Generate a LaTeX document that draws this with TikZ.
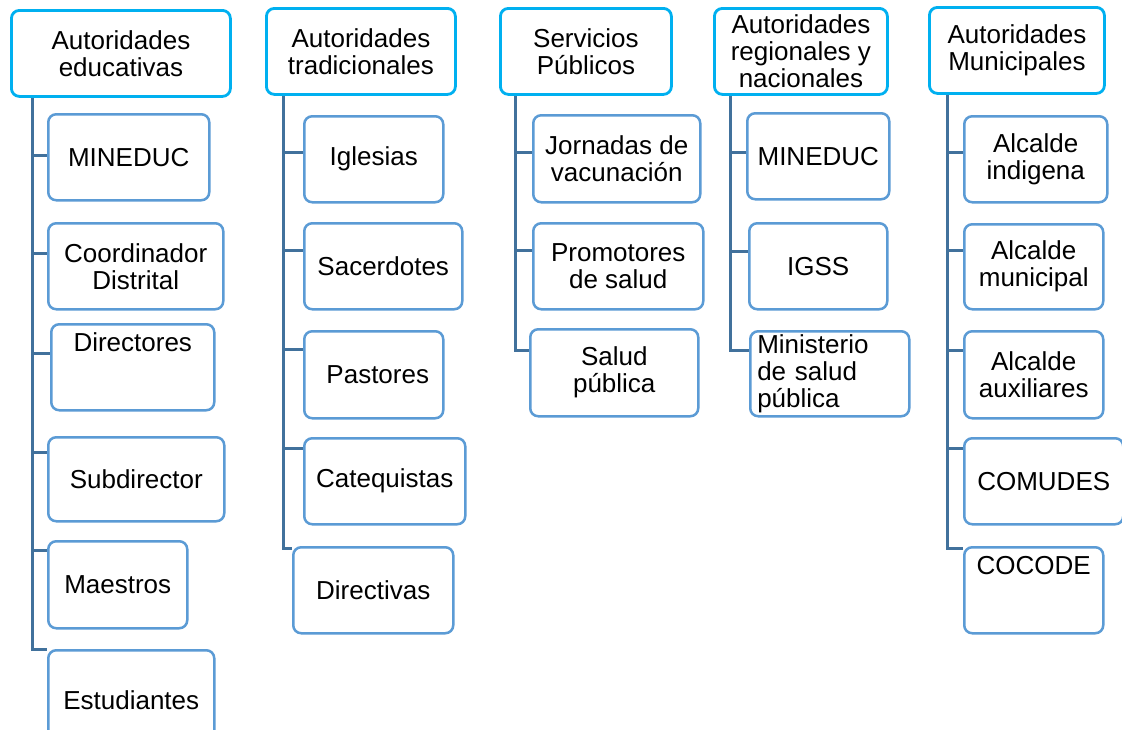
\documentclass[tikz,border=0pt]{standalone}
\usepackage{fontspec}
\setmainfont{Liberation Sans}
\usetikzlibrary{positioning}
\definecolor{headline}{HTML}{00B0F0}
\definecolor{boxline}{HTML}{5B9BD5}
\definecolor{trunkline}{HTML}{41719C}
\tikzset{
every node/.style={font=\fontsize{26}{27}\selectfont, align=center, inner sep=3pt}, % text of all boxes
head/.style={draw=headline, line width=2.8pt, rounded corners=8pt, fill=white, anchor=north west, minimum height=86pt}, % top boxes
unit/.style={draw=boxline, line width=2.5pt, rounded corners=8pt, fill=white, anchor=north west, minimum height=86pt}, % boxes below them
uptext/.style={text height=18pt, text depth=50pt}, % pushes a single line to the top of its box
branch/.style={draw=trunkline, line width=3pt}, % the connecting lines
}

\begin{document}
\begin{tikzpicture}[x=1pt, y=-1pt]
    \path[use as bounding box, fill=white] (0,0) rectangle (1122,729);
    % headers
    \node[head, minimum width=219pt] (h1) at (10,9) {Autoridades\\educativas};
    \node[head, minimum width=189pt] (h2) at (265,7) {Autoridades\\tradicionales};
    \node[head, minimum width=171pt] (h3) at (499,7) {Servicios\\Públicos};
    \node[head, minimum width=173pt] (h4) at (713,7) {Autoridades\\regionales y\\nacionales};
    \node[head, minimum width=175pt] (h5) at (928,6) {Autoridades\\Municipales};
    % educativas
    \node[unit, minimum width=161pt] (c11) at (47,113) {MINEDUC};
    \node[unit, minimum width=175pt] (c12) at (47,222) {Coordinador\\Distrital};
    \node[unit, minimum width=163pt, uptext] (c13) at (50,323) {Directores};
    \node[unit, minimum width=176pt, minimum height=84pt] (c14) at (47,436) {Subdirector};
    \node[unit, minimum width=139pt, minimum height=87pt] (c15) at (47,540) {Maestros};
    \node[unit, minimum width=166pt, minimum height=100pt] (c16) at (47,649) {Estudiantes};
    % tradicionales
    \node[unit, minimum width=139pt] (c21) at (303,115) {Iglesias};
    \node[unit, minimum width=158pt] (c22) at (303,222) {Sacerdotes};
    \node[unit, minimum width=139pt, minimum height=87pt] (c23) at (303,330) {\hspace{8pt}Pastores};
    \node[unit, minimum width=161pt] (c24) at (303,437) {Catequistas};
    \node[unit, minimum width=160pt] (c25) at (292,546) {Directivas};
    % servicios
    \node[unit, minimum width=167pt, minimum height=87pt] (c31) at (532,114) {Jornadas de\\vacunación};
    \node[unit, minimum width=170pt] (c32) at (532,222) {Promotores\\de salud};
    \node[unit, minimum width=168pt, minimum height=87pt] (c33) at (529,328) {Salud\\pública};
    % regionales
    \node[unit, minimum width=142pt] (c41) at (746,112) {MINEDUC};
    \node[unit, minimum width=138pt] (c42) at (748,222) {IGSS};
    \node[unit, text width=145pt, inner xsep=7pt, align=left, minimum height=85pt] (c43) at (749,330) {Ministerio\\de salud\\pública};
    % municipales
    \node[unit, minimum width=143pt] (c51) at (963,115) {Alcalde\\indigena};
    \node[unit, minimum width=139pt, minimum height=85pt] (c52) at (963,223) {Alcalde\\municipal};
    \node[unit, minimum width=139pt, minimum height=87pt] (c53) at (963,330) {Alcalde\\auxiliares};
    \node[unit, minimum width=159pt] (c54) at (963,437) {COMUDES};
    \node[unit, minimum width=139pt, uptext] (c55) at (963,546) {COCODE};
    % trunk positions
    \coordinate (t1) at (32,96);
    \coordinate (t2) at (283,93);
    \coordinate (t3) at (515,93);
    \coordinate (t4) at (730,93);
    \coordinate (t5) at (947,93);
    \draw[branch]
    (h1.south -| t1) |- (c16.west |- 0,649)
    (t1 |- 0,155) -- (c11.west |- 0,155)
    (t1 |- 0,253) -- (c12.west |- 0,253)
    (t1 |- 0,353) -- (c13.west |- 0,353)
    (t1 |- 0,452) -- (c14.west |- 0,452)
    (t1 |- 0,550) -- (c15.west |- 0,550);
    \draw[branch]
    (h2.south -| t2) |- (c25.west |- 0,548)
    (t2 |- 0,152) -- (c21.west |- 0,152)
    (t2 |- 0,250) -- (c22.west |- 0,250)
    (t2 |- 0,349) -- (c23.west |- 0,349)
    (t2 |- 0,448) -- (c24.west |- 0,448);
    \draw[branch]
    (h3.south -| t3) |- (c33.west |- 0,350)
    (t3 |- 0,152) -- (c31.west |- 0,152)
    (t3 |- 0,250) -- (c32.west |- 0,250);
    \draw[branch]
    (h4.south -| t4) |- (c43.west |- 0,350)
    (t4 |- 0,152) -- (c41.west |- 0,152)
    (t4 |- 0,251) -- (c42.west |- 0,251);
    \draw[branch]
    (h5.south -| t5) |- (c55.west |- 0,548)
    (t5 |- 0,152) -- (c51.west |- 0,152)
    (t5 |- 0,250) -- (c52.west |- 0,250)
    (t5 |- 0,350) -- (c53.west |- 0,350)
    (t5 |- 0,448) -- (c54.west |- 0,448);
  \end{tikzpicture}
\end{document}
